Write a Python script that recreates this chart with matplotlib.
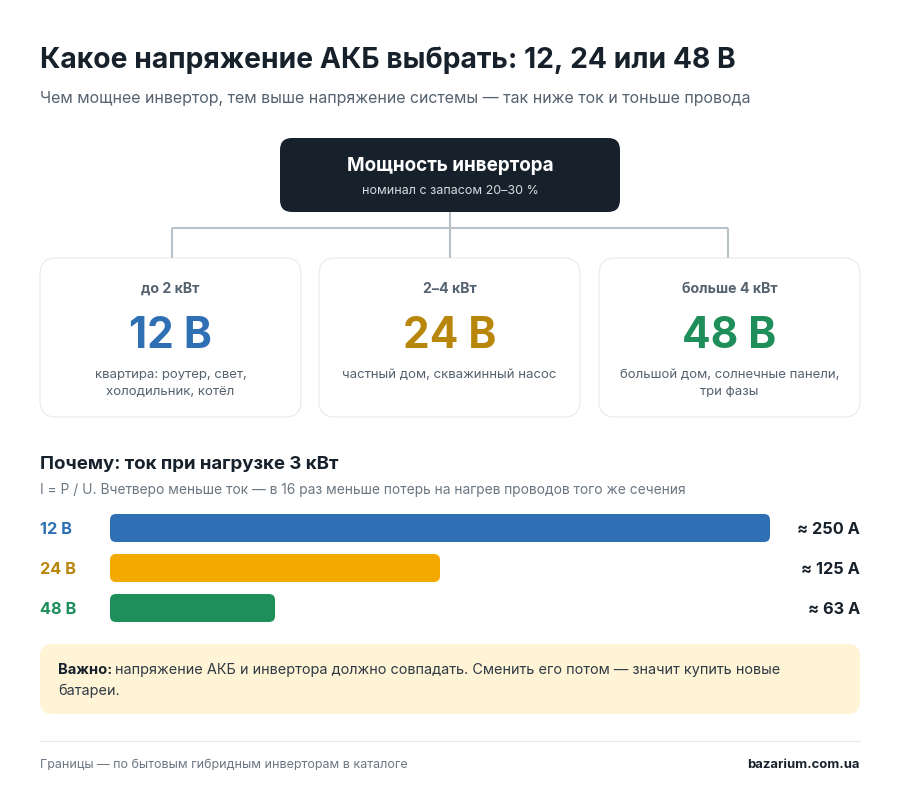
import matplotlib
matplotlib.use("Agg")
import matplotlib.pyplot as plt
from matplotlib.patches import FancyBboxPatch

FONT = "Inter"
title = "Какое напряжение АКБ выбрать: 12, 24 или 48 В"
subtitle = "Чем мощнее инвертор, тем выше напряжение системы — так ниже ток и тоньше провода"

ranges = ["до 2 кВт", "2–4 кВт", "больше 4 кВт"]
volts = ["12 В", "24 В", "48 В"]
uses = ["квартира: роутер, свет,\nхолодильник, котёл", "частный дом, скважинный насос",
        "большой дом, солнечные панели,\nтри фазы"]
currents = [250, 125, 62.5]
current_labels = ["≈ 250 А", "≈ 125 А", "≈ 63 А"]
volt_colors = ["#2f70b5", "#b8860b", "#1e8e5a"]
bar_colors = ["#2f70b5", "#f2a900", "#1e8e5a"]

plt.rcParams["font.family"] = [FONT, "DejaVu Sans"]
fig = plt.figure(figsize=(9, 8.01), dpi=100, facecolor="white")
ax = fig.add_axes([0, 0, 1, 1])
ax.set_xlim(0, 900)
ax.set_ylim(801, 0)
ax.axis("off")


def box(x, y, w, h, r, fc, ec="none", lw=0):
    ax.add_patch(FancyBboxPatch((x + r, y + r), w - 2 * r, h - 2 * r, boxstyle="round,pad=%s,rounding_size=%s" % (r, r),
                                fc=fc, ec=ec, lw=lw))


ax.text(40, 60, title, fontsize=20.35, fontweight="bold", color="#17212b", va="center")
ax.text(40, 98, subtitle, fontsize=11.5, color="#55626f", va="center")

# top box and connectors
for xs, ys in [([450, 450], [212, 228]), ([172, 728], [228, 228]), ([172, 172], [228, 258]),
               ([450, 450], [228, 258]), ([728, 728], [228, 258])]:
    ax.plot(xs, ys, color="#b8c0c8", lw=1.5, solid_capstyle="butt")
box(280, 138, 340, 74, 12, "#17212b")
ax.text(450, 166, "Мощность инвертора", fontsize=13.6, fontweight="bold", color="white", ha="center", va="center")
ax.text(450, 191, "номинал с запасом 20–30 %", fontsize=9, color="#d5dbe0", ha="center", va="center")

# cards
card_x = [40, 319, 599]
for i in range(3):
    box(card_x[i], 258, 261, 159, 16, "white", "#e6eaed", 0.8)
    cx = card_x[i] + 130.5
    ax.text(cx, 289, ranges[i], fontsize=10.2, fontweight="bold", color="#55626f", ha="center", va="center")
    ax.text(cx, 337, volts[i], fontsize=30.5, fontweight="bold", color=volt_colors[i], ha="center", va="center")
    ax.text(cx, 383.5 if "\n" in uses[i] else 375, uses[i], fontsize=9.5, color="#55626f", ha="center", va="center",
            linespacing=1.45)

ax.text(40, 464, "Почему: ток при нагрузке 3 кВт", fontsize=13.45, fontweight="bold", color="#17212b", va="center")
ax.text(40, 490, "I = P / U. Вчетверо меньше ток — в 16 раз меньше потерь на нагрев проводов того же сечения",
        fontsize=9.93, color="#6b7782", va="center")

# bars, 660 px for 250 A
bar_y = [514, 554, 594]
for i in range(3):
    w = currents[i] * 660 / 250
    box(110, bar_y[i], w, 28, 6, bar_colors[i])
    ax.text(40, bar_y[i] + 16, volts[i], fontsize=11.8, fontweight="bold", color=volt_colors[i], va="center")
    ax.text(860, bar_y[i] + 16, current_labels[i], fontsize=11.8, fontweight="bold", color="#17212b", ha="right", va="center")

# note
box(40, 644, 820, 70, 12, "#fff4d6")
ax.text(58, 670, "Важно:", fontsize=10.6, fontweight="bold", color="#17212b", va="center")
ax.text(115, 670, "напряжение АКБ и инвертора должно совпадать. Сменить его потом — значит купить новые",
        fontsize=10.42, color="#2f3a45", va="center")
ax.text(58, 691, "батареи.", fontsize=10.42, color="#2f3a45", va="center")

ax.plot([40, 860], [740.5, 740.5], color="#e6eaed", lw=0.8)
ax.text(40, 765, "Границы — по бытовым гибридным инверторам в каталоге", fontsize=9.0, color="#6b7782", va="center")
ax.text(860, 765, "bazarium.com.ua", fontsize=9.43, fontweight="bold", color="#17212b", ha="right", va="center")

fig.savefig("out.png", dpi=100)
